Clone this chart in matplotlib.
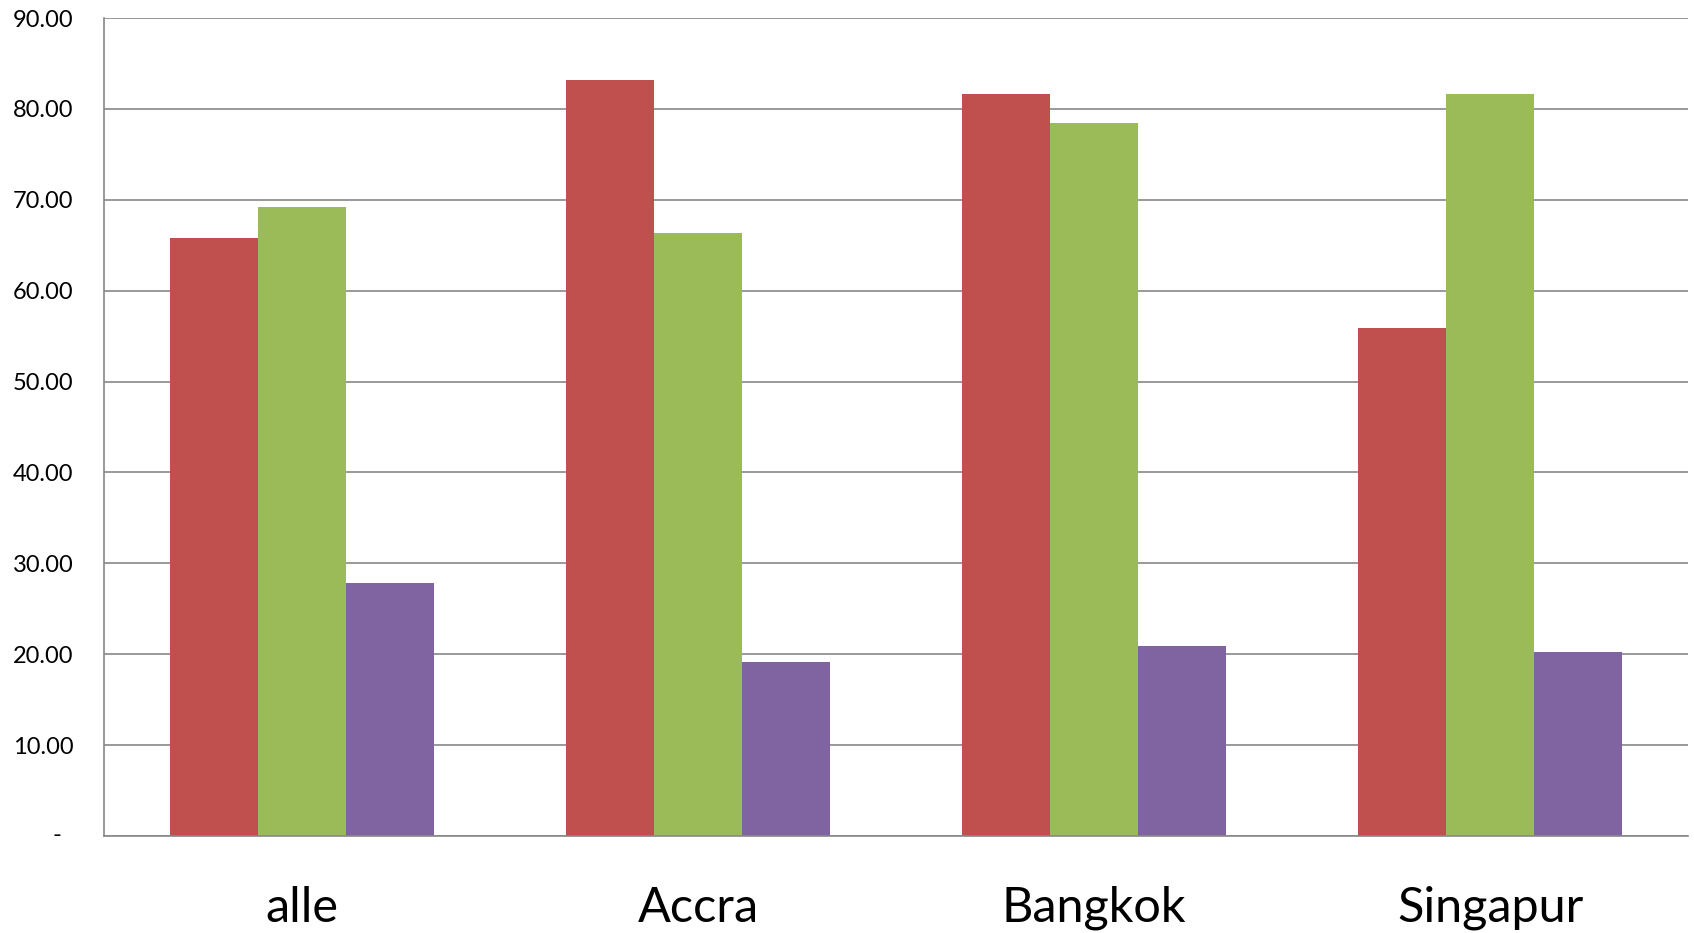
import matplotlib
matplotlib.use("Agg")
import matplotlib.pyplot as plt
from matplotlib.ticker import FuncFormatter, MultipleLocator
import numpy as np

plt.rcParams['font.family'] = ['Lato', 'DejaVu Sans']

categories = ["alle", "Accra", "Bangkok", "Singapur"]
series_red = [65.8, 83.2, 81.6, 55.9]
series_green = [69.2, 66.4, 78.5, 81.6]
series_purple = [27.8, 19.1, 20.9, 20.2]

colors = ["#C0504D", "#9BBB59", "#8064A2"]
grid_color = "#888888"

fig = plt.figure(figsize=(16.94, 9.33), dpi=100)
ax = fig.add_axes([0.0614, 0.104, 0.9351, 0.8766])

x = np.arange(len(categories))
width = 2 / 9
for i, (vals, c) in enumerate(zip([series_red, series_green, series_purple], colors)):
    ax.bar(x + (i - 1) * width, vals, width=width, color=c, linewidth=0, zorder=3)

ax.set_xlim(-0.5, len(categories) - 0.5)
ax.set_ylim(0, 90)
ax.yaxis.set_major_locator(MultipleLocator(10))
# zero is written as a dash (accounting style), placed separately below
ax.yaxis.set_major_formatter(FuncFormatter(lambda v, p: "" if abs(v) < 1e-9 else f"{v:.2f}"))
ax.annotate("-", xy=(0, 0), xycoords=("axes fraction", "data"),
            xytext=(-47, 0), textcoords="offset pixels",
            ha="center", va="center", fontsize=17, annotation_clip=False)
ax.grid(axis="y", color=grid_color, linewidth=1.2, zorder=1)
ax.set_axisbelow(True)

for s in ["top", "right"]:
    ax.spines[s].set_visible(False)
for s in ["left", "bottom"]:
    ax.spines[s].set_color(grid_color)
    ax.spines[s].set_linewidth(1.2)
    ax.spines[s].set_zorder(4)

ax.set_xticks(x)
ax.set_xticklabels(categories)
ax.tick_params(axis="x", length=0, pad=36, labelsize=35)
ax.tick_params(axis="y", length=0, pad=22, labelsize=17)

fig.savefig("out.png", dpi=100)
